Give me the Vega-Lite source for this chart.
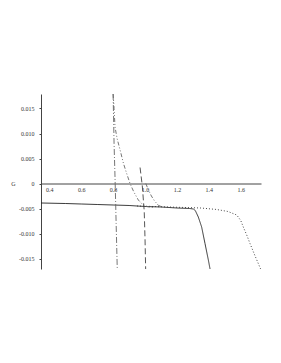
{
  "$schema": "https://vega.github.io/schema/vega-lite/v6.json",
  "width": 220,
  "height": 175,
  "autosize": {"type": "none"},
  "padding": {"left": 41, "top": 94, "right": 20, "bottom": 94},
  "background": "white",
  "config": {"view": {"stroke": null}, "font": "Liberation Serif"},
  "data": {
    "values": [
      {"s": "A", "k": "solid", "x": 0.348, "G": -0.0039},
      {"s": "A", "k": "solid", "x": 0.5, "G": -0.004},
      {"s": "A", "k": "solid", "x": 0.6, "G": -0.0041},
      {"s": "A", "k": "solid", "x": 0.7, "G": -0.0042},
      {"s": "A", "k": "solid", "x": 0.8, "G": -0.0043},
      {"s": "A", "k": "solid", "x": 0.9, "G": -0.0044},
      {"s": "A", "k": "solid", "x": 1.0, "G": -0.0046},
      {"s": "A", "k": "solid", "x": 1.1, "G": -0.0047},
      {"s": "A", "k": "solid", "x": 1.2, "G": -0.0049},
      {"s": "A", "k": "solid", "x": 1.28, "G": -0.005},
      {"s": "A", "k": "solid", "x": 1.303, "G": -0.0051},
      {"s": "A", "k": "solid", "x": 1.315, "G": -0.0054},
      {"s": "A", "k": "solid", "x": 1.334, "G": -0.0067},
      {"s": "A", "k": "solid", "x": 1.355, "G": -0.0087},
      {"s": "A", "k": "solid", "x": 1.376, "G": -0.012},
      {"s": "A", "k": "solid", "x": 1.397, "G": -0.0153},
      {"s": "A", "k": "solid", "x": 1.41, "G": -0.0175},
      {"s": "B", "k": "dotted", "x": 0.95, "G": -0.0045},
      {"s": "B", "k": "dotted", "x": 1.05, "G": -0.0046},
      {"s": "B", "k": "dotted", "x": 1.15, "G": -0.0047},
      {"s": "B", "k": "dotted", "x": 1.25, "G": -0.0048},
      {"s": "B", "k": "dotted", "x": 1.35, "G": -0.0049},
      {"s": "B", "k": "dotted", "x": 1.45, "G": -0.0052},
      {"s": "B", "k": "dotted", "x": 1.52, "G": -0.0056},
      {"s": "B", "k": "dotted", "x": 1.575, "G": -0.0063},
      {"s": "B", "k": "dotted", "x": 1.6, "G": -0.0074},
      {"s": "B", "k": "dotted", "x": 1.616, "G": -0.0087},
      {"s": "B", "k": "dotted", "x": 1.64, "G": -0.0105},
      {"s": "B", "k": "dotted", "x": 1.658, "G": -0.012},
      {"s": "B", "k": "dotted", "x": 1.69, "G": -0.0145},
      {"s": "B", "k": "dotted", "x": 1.73, "G": -0.0175},
      {"s": "C", "k": "dashdot", "x": 0.8, "G": 0.0179},
      {"s": "C", "k": "dashdot", "x": 0.806, "G": 0.008},
      {"s": "C", "k": "dashdot", "x": 0.813, "G": 0.0},
      {"s": "C", "k": "dashdot", "x": 0.819, "G": -0.008},
      {"s": "C", "k": "dashdot", "x": 0.826, "G": -0.0171},
      {"s": "D", "k": "dashdot2", "x": 0.8, "G": 0.0179},
      {"s": "D", "k": "dashdot2", "x": 0.806, "G": 0.015},
      {"s": "D", "k": "dashdot2", "x": 0.812, "G": 0.0113},
      {"s": "D", "k": "dashdot2", "x": 0.825, "G": 0.009},
      {"s": "D", "k": "dashdot2", "x": 0.843, "G": 0.0068},
      {"s": "D", "k": "dashdot2", "x": 0.865, "G": 0.004},
      {"s": "D", "k": "dashdot2", "x": 0.885, "G": 0.002},
      {"s": "D", "k": "dashdot2", "x": 0.906, "G": 0.0},
      {"s": "D", "k": "dashdot2", "x": 0.93, "G": -0.0017},
      {"s": "D", "k": "dashdot2", "x": 0.958, "G": -0.0033},
      {"s": "D", "k": "dashdot2", "x": 0.985, "G": -0.0042},
      {"s": "D", "k": "dashdot2", "x": 1.01, "G": -0.0046},
      {"s": "D", "k": "dashdot2", "x": 1.05, "G": -0.0048},
      {"s": "E", "k": "dashed", "x": 0.969, "G": 0.0032},
      {"s": "E", "k": "dashed", "x": 0.983, "G": -0.0005},
      {"s": "E", "k": "dashed", "x": 0.995, "G": -0.0055},
      {"s": "E", "k": "dashed", "x": 1.0, "G": -0.011},
      {"s": "E", "k": "dashed", "x": 1.004, "G": -0.0171},
      {"s": "F", "k": "dashdot2", "x": 1.005, "G": 0.0},
      {"s": "F", "k": "dashdot2", "x": 1.02, "G": -0.0012},
      {"s": "F", "k": "dashdot2", "x": 1.04, "G": -0.0025},
      {"s": "F", "k": "dashdot2", "x": 1.06, "G": -0.0035},
      {"s": "F", "k": "dashdot2", "x": 1.085, "G": -0.0044},
      {"s": "F", "k": "dashdot2", "x": 1.11, "G": -0.0047}
    ]
  },
  "mark": {"type": "line", "clip": true, "strokeWidth": 0.9},
  "encoding": {
    "x": {
      "field": "x", "type": "quantitative",
      "scale": {"domain": [0.348, 1.727], "nice": false, "zero": false},
      "axis": {
        "title": null, "values": [0.4, 0.6, 0.8, 1.0, 1.2, 1.4, 1.6],
        "format": ".1f", "offset": -85.5, "grid": false,
        "tickSize": 0, "labelPadding": 3, "labelFontSize": 6,
        "labelColor": "#333", "domainColor": "#444", "labelFont": "Liberation Serif"
      }
    },
    "y": {
      "field": "G", "type": "quantitative",
      "scale": {"domain": [-0.0171, 0.0179], "nice": false, "zero": false},
      "axis": {
        "title": "G", "titleAngle": 0, "titleX": -28, "titleY": 89.5,
        "titleFontSize": 6, "titleFontWeight": "normal", "titleFont": "Liberation Serif", "titleColor": "#333",
        "titleAlign": "center", "titleBaseline": "middle",
        "values": [-0.015, -0.01, -0.005, 0, 0.005, 0.01, 0.015],
        "labelExpr": "datum.value == 0 ? '0' : replace(format(datum.value, '.3f'), '−', '-')",
        "grid": false, "tickSize": 2, "labelPadding": 5, "labelFontSize": 6,
        "labelColor": "#333", "domainColor": "#444", "tickColor": "#444", "labelFont": "Liberation Serif"
      }
    },
    "detail": {"field": "s"},
    "color": {
      "field": "k", "type": "nominal", "legend": null,
      "scale": {
        "domain": ["solid", "dotted", "dashdot", "dashdot2", "dashed"],
        "range": ["#222222", "#333333", "#666666", "#666666", "#444444"]
      }
    },
    "strokeDash": {
      "field": "k", "type": "nominal", "legend": null,
      "scale": {
        "domain": ["solid", "dotted", "dashdot", "dashdot2", "dashed"],
        "range": [[1, 0], [1, 2], [6, 2, 1, 2], [4, 2, 1, 2, 1, 2], [6, 3]]
      }
    }
  }
}
